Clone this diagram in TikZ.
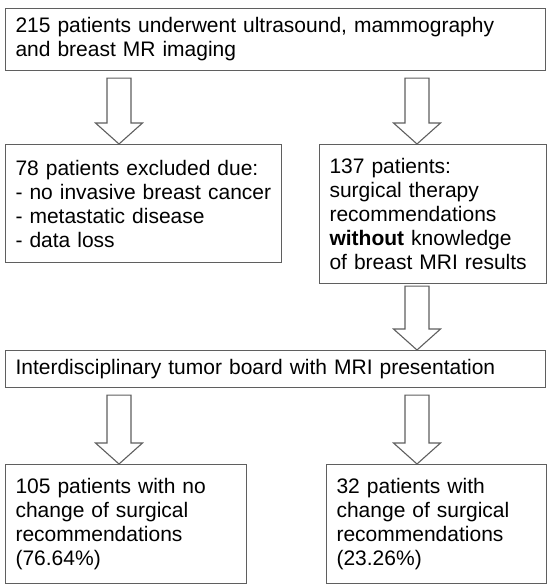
\documentclass[tikz,border=0pt]{standalone}
\usepackage{fontspec}
\setmainfont{Liberation Sans}
\usetikzlibrary{calc}

\definecolor{boxgray}{RGB}{95,95,95}

\begin{document}
\begin{tikzpicture}[
  x=1pt, y=-1pt,
  every node/.style={draw=boxgray,line width=1.1pt,rectangle,anchor=north west,
    inner xsep=10pt,inner ysep=0pt,align=left,font=\fontsize{21}{24}\selectfont},
  blockarrow/.style={draw=boxgray,line width=1.1pt,fill=white,line join=miter,
    to path={let \p1=(\tikztostart), \p2=(\tikztotarget) in
      (\x1-12pt,\y1) -- (\x1+12pt,\y1) -- (\x1+12pt,\y2+21pt) -- (\x1+23.5pt,\y2+21pt)
      -- (\x1,\y2) -- (\x1-23.5pt,\y2+21pt) -- (\x1-12pt,\y2+21pt) -- cycle}}
]
  \useasboundingbox (0,0) rectangle (550,584);

  % boxes
  \node[text width=520pt,minimum height=62pt] (scan) at (5,8)
    {215 patients underwent ultrasound, mammography\\and breast MR imaging};
  \node[text width=256pt,minimum height=118pt] (excl) at (5,144)
    {78 patients excluded due:\\- no invasive breast cancer\\- metastatic disease\\- data loss};
  \node[text width=207pt,minimum height=139pt] (incl) at (319,144)
    {137 patients:\\surgical therapy\\recommendations\\\textbf{without} knowledge\\of breast MRI results};
  \node[text width=520pt,minimum height=37pt] (board) at (5,350)
    {Interdisciplinary tumor board with MRI presentation};
  \node[text width=221pt,minimum height=119pt] (nochg) at (5,464)
    {105 patients with no\\change of surgical\\recommendations\\(76.64\%)};
  \node[text width=200pt,minimum height=119pt] (chg) at (326,464)
    {32 patients with\\change of surgical\\recommendations\\(23.26\%)};

  % arrow columns
  \coordinate (lcol) at (119,0);
  \coordinate (rcol) at (417,0);

  \draw[blockarrow] ([yshift=-7pt]scan.south -| lcol) to (excl.north -| lcol);
  \draw[blockarrow] ([yshift=-7pt]scan.south -| rcol) to (incl.north -| rcol);
  \draw[blockarrow] ([yshift=-2pt]incl.south -| rcol) to (board.north -| rcol);
  \draw[blockarrow] ([yshift=-7pt]board.south -| lcol) to (nochg.north -| lcol);
  \draw[blockarrow] ([yshift=-7pt]board.south -| rcol) to (chg.north -| rcol);
\end{tikzpicture}
\end{document}
